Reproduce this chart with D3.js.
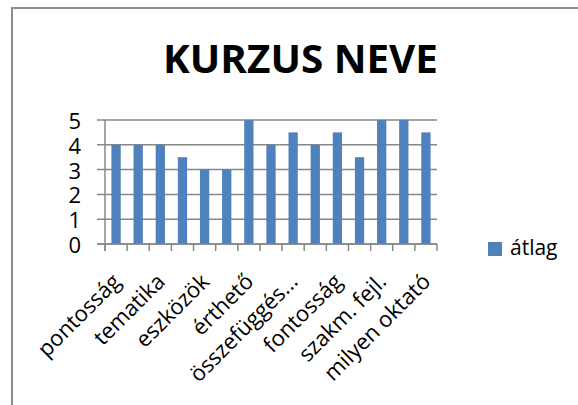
<!DOCTYPE html>
<html>
<head>
<meta charset="utf-8">
<script src="https://cdn.jsdelivr.net/npm/d3@7"></script>
<style>
  body { margin: 0; background: #fff; }
  svg { display: block; font-family: "Open Sans", "Noto Sans", sans-serif; }
</style>
</head>
<body>
<div id="chart"></div>
<script>
// categories (only every second one gets a visible label, as in the original)
const categories = ["pontosság", "felkészültség", "tematika", "érdekesség", "eszközök",
  "jegyzet", "érthető", "gyakorlat", "összefüggés...", "hasznosság", "fontosság",
  "kommunikáció", "szakm. fejl.", "elégedettség", "milyen oktató"];
const values = [4, 4, 4, 3.5, 3, 3, 5, 4, 4.5, 4, 4.5, 3.5, 5, 5, 4.5];
const yTicks = [0, 1, 2, 3, 4, 5];
const seriesName = "átlag";
const title = "KURZUS NEVE";

const width = 578, height = 405;
const margin = {top: 120, right: 141, bottom: 161, left: 105};
const barColor = "#4f81bd";
const gridColor = "#878787";

const svg = d3.select("#chart").append("svg")
    .attr("width", width)
    .attr("height", height);

// chart border
svg.append("rect")
    .attr("x", 12).attr("y", 8)
    .attr("width", 600).attr("height", 420)
    .attr("fill", "none")
    .attr("stroke", "#8c8c8c")
    .attr("stroke-width", 2);

svg.append("text")
    .attr("x", 163)
    .attr("y", 73)
    .attr("textLength", 275)
    .attr("lengthAdjust", "spacingAndGlyphs")
    .style("font-size", "39px")
    .style("font-weight", "bold")
    .text(title);

const x = d3.scaleBand()
    .domain(categories)
    .range([margin.left, width - margin.right])
    .paddingInner(0.58)
    .paddingOuter(0.29);

const xCat = d3.scaleBand()
    .domain(categories)
    .range([margin.left, width - margin.right]);

const y = d3.scaleLinear()
    .domain([0, 5])
    .range([height - margin.bottom, margin.top]);

// gridlines + y tick marks
svg.append("g")
  .selectAll("line")
  .data(yTicks)
  .enter().append("line")
    .attr("x1", margin.left - 8)
    .attr("x2", width - margin.right)
    .attr("y1", d => y(d))
    .attr("y2", d => y(d))
    .attr("stroke", gridColor)
    .attr("stroke-width", 1.5);

svg.append("g")
  .selectAll("text")
  .data(yTicks)
  .enter().append("text")
    .attr("x", 81)
    .attr("y", d => y(d) + 1)
    .attr("dy", "0.36em")
    .attr("text-anchor", "end")
    .style("font-size", "22px")
    .text(d => d);

// bars
svg.append("g")
  .selectAll("rect")
  .data(values)
  .enter().append("rect")
    .attr("x", (d, i) => x(categories[i]))
    .attr("y", d => y(d))
    .attr("width", x.bandwidth())
    .attr("height", d => y(0) - y(d))
    .attr("fill", barColor);

// axes lines
svg.append("line")
    .attr("x1", margin.left).attr("x2", margin.left)
    .attr("y1", y(5)).attr("y2", y(0) + 7)
    .attr("stroke", gridColor).attr("stroke-width", 1.5);

svg.append("line")
    .attr("x1", margin.left - 8).attr("x2", width - margin.right)
    .attr("y1", y(0)).attr("y2", y(0))
    .attr("stroke", gridColor).attr("stroke-width", 1.5);

const edges = categories.map(c => xCat(c)).concat([width - margin.right]);
svg.append("g")
  .selectAll("line")
  .data(edges)
  .enter().append("line")
    .attr("x1", d => d).attr("x2", d => d)
    .attr("y1", y(0)).attr("y2", y(0) + 7)
    .attr("stroke", gridColor).attr("stroke-width", 1.5);

// category labels, every other one
svg.append("g")
  .selectAll("text")
  .data(categories.filter((c, i) => i % 2 === 0))
  .enter().append("text")
    .attr("text-anchor", "end")
    .attr("transform", d => `translate(${xCat(d) + xCat.bandwidth() / 2 + 6},${y(0) + 39}) rotate(-45)`)
    .style("font-size", "22px")
    .text(d => d);

// legend
const legend = svg.append("g").attr("transform", "translate(488,242)");
legend.append("rect")
    .attr("width", 14).attr("height", 14)
    .attr("fill", barColor);
legend.append("text")
    .attr("x", 22).attr("y", 13)
    .style("font-size", "21px")
    .text(seriesName);
</script>
</body>
</html>
